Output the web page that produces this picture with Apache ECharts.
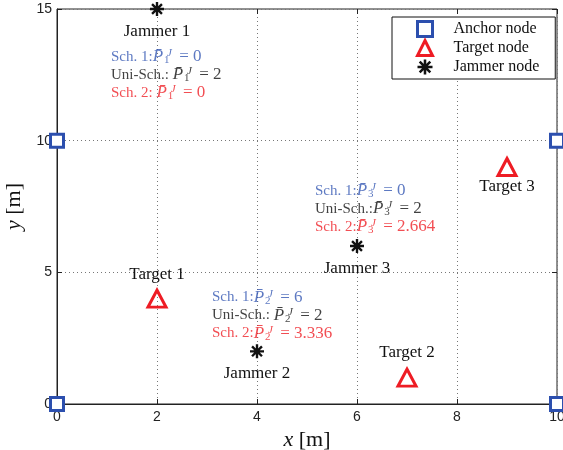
<!DOCTYPE html>
<html>
<head>
<meta charset="utf-8">
<script src="https://cdn.jsdelivr.net/npm/echarts@6/dist/echarts.min.js"></script>
<style>
  html, body { margin: 0; padding: 0; background: #fff; }
  #chart { width: 563px; height: 450px; }
</style>
</head>
<body>
<div id="chart"></div>
<script>
// Node positions [m]
const anchorX = [0, 0, 10, 10];
const anchorY = [0, 10, 0, 10];
const targetX = [2, 7, 9];
const targetY = [4, 1, 9];
const targetNames = ['Target 1', 'Target 2', 'Target 3'];
const jammerX = [2, 4, 6];
const jammerY = [15, 2, 6];
const jammerNames = ['Jammer 1', 'Jammer 2', 'Jammer 3'];

// Jammer power allocation under each scheme
const powerSch1 = [0, 6, 0];
const powerUni = [2, 2, 2];
const powerSch2 = [0, 3.336, 2.664];

// Axis ticks
const xTicks = [0, 2, 4, 6, 8, 10];
const yTicks = [0, 5, 10, 15];

// ---- styling / layout ----
const BLUE = '#2c4fae';
const RED = '#ee1c24';
const TXT_BLUE = '#3557b3';
const TXT_RED = '#ef2228';
const SERIF = '"Liberation Serif", "DejaVu Serif", serif';
const SANS = '"Liberation Sans", Arial, sans-serif';

// 8-spoke asterisk marker (horizontal, vertical and both diagonals)
const ASTERISK = 'path://M-10,-1.7L10,-1.7L10,1.7L-10,1.7Z' +
  'M-1.7,-10L1.7,-10L1.7,10L-1.7,10Z' +
  'M-5.87,-8.27L8.27,5.87L5.87,8.27L-8.27,-5.87Z' +
  'M8.27,-5.87L-5.87,8.27L-8.27,5.87L5.87,-8.27Z';

// Where each jammer's power annotation sits relative to the jammer [px]
const annotOffset = [[-46, 66], [-45, -36], [-42, -37]];
// Uni-Sch. line has a space after the colon for some jammers
const uniSpace = [' ', ' ', ''];

const targetLabelPos = ['top', 'top', 'bottom'];
const targetLabelDist = [6, 7, 1];

const EQ = ' = ';

function powerLines(i) {
  const k = i + 1;
  const sym = (c) => `{${c}i|P\u0304}{${c}sub|${k}}{${c}sup|J}`;
  return [
    `{b|Sch. 1:}${sym('b')}{bm|${EQ}${powerSch1[i]}}`,
    `{k|Uni-Sch.:${uniSpace[i]}}${sym('k')}{km|${EQ}${powerUni[i]}}`,
    `{r|Sch. 2:${i === 0 ? ' ' : ''}}${sym('r')}{rm|${EQ}${powerSch2[i]}}`
  ].join('\n');
}

function mathRich(prefix, color) {
  const o = {};
  o[prefix] = { color, fontFamily: SERIF, fontSize: 15, lineHeight: 18 };
  o[prefix + 'm'] = { color, fontFamily: SERIF, fontSize: 17, lineHeight: 18 };
  o[prefix + 'i'] = { color, fontFamily: SERIF, fontSize: 17, fontStyle: 'italic', lineHeight: 18 };
  o[prefix + 'sub'] = { color, fontFamily: SERIF, fontSize: 11, lineHeight: 11, verticalAlign: 'bottom', width: 0.01, padding: [0, 0, 0, 1] };
  o[prefix + 'sup'] = { color, fontFamily: SERIF, fontSize: 11, fontStyle: 'italic', lineHeight: 11, verticalAlign: 'top', padding: [0, 3, 0, 3] };
  return o;
}
const annotRich = Object.assign({}, mathRich('b', TXT_BLUE), mathRich('k', '#111'), mathRich('r', TXT_RED));

const chart = echarts.init(document.getElementById('chart'), null, { renderer: 'canvas' });

const gridLine = { show: true, lineStyle: { color: '#777', type: [1, 3], width: 1 } };
const axisNameStyle = {
  fontFamily: SERIF, fontSize: 22, color: '#111',
  rich: { i: { fontFamily: SERIF, fontSize: 22, fontStyle: 'italic', color: '#111' } }
};
const innerTick = { show: true, inside: true, length: 5, lineStyle: { color: '#222' } };

chart.setOption({
  animation: false,
  backgroundColor: '#fff',
  grid: {
    left: 57, right: 6, top: 9, bottom: 46,
    outerBoundsMode: 'none', containLabel: false,
    show: true, borderColor: '#222', borderWidth: 1, backgroundColor: 'transparent'
  },
  legend: {
    left: 392, top: 17,
    orient: 'vertical',
    backgroundColor: '#fff',
    borderColor: '#111', borderWidth: 1,
    padding: [3, 16, 3, 24],
    itemWidth: 15, itemHeight: 15, itemGap: 1,
    symbolKeepAspect: true,
    textStyle: { fontFamily: SERIF, fontSize: 16, color: '#111', lineHeight: 18, padding: [0, 0, 0, 16] },
    data: [
      { name: 'Anchor node', itemStyle: { borderWidth: 3 } },
      { name: 'Target node', itemStyle: { borderWidth: 3 } },
      { name: 'Jammer node' }
    ]
  },
  xAxis: [{
    type: 'value', min: 0, max: 10, interval: 2,
    name: '{i|x} [m]', nameLocation: 'middle', nameGap: 20,
    nameTextStyle: axisNameStyle,
    axisLine: { show: true, onZero: false, lineStyle: { color: '#222' } },
    axisTick: innerTick,
    axisLabel: { fontFamily: SANS, fontSize: 14, color: '#222', margin: 6,
      formatter: (v) => xTicks.includes(v) ? String(v) : '' },
    splitLine: gridLine
  }, {
    type: 'value', min: 0, max: 10, interval: 2, position: 'top',
    axisLine: { show: false, onZero: false },
    axisTick: innerTick,
    axisLabel: { show: false }, splitLine: { show: false }
  }],
  yAxis: [{
    type: 'value', min: 0, max: 15, interval: 5,
    name: '{i|y} [m]', nameLocation: 'middle', nameGap: 20, nameRotate: 90,
    nameTextStyle: axisNameStyle,
    axisLine: { show: true, onZero: false, lineStyle: { color: '#222' } },
    axisTick: innerTick,
    axisLabel: { fontFamily: SANS, fontSize: 14, color: '#222', margin: 5,
      formatter: (v) => yTicks.includes(v) ? String(v) : '' },
    splitLine: gridLine
  }, {
    type: 'value', min: 0, max: 15, interval: 5, position: 'right',
    axisLine: { show: false, onZero: false },
    axisTick: innerTick,
    axisLabel: { show: false }, splitLine: { show: false }
  }],
  series: [
    {
      name: 'Anchor node', type: 'scatter', clip: false, z: 5,
      symbol: 'rect', symbolSize: 13,
      itemStyle: { color: '#fff', borderColor: BLUE, borderWidth: 3, opacity: 1 },
      data: anchorX.map((x, i) => [x, anchorY[i]])
    },
    {
      name: 'Target node', type: 'scatter', clip: false, z: 5,
      symbol: 'triangle', symbolSize: [18, 17],
      itemStyle: { color: 'rgba(255,255,255,0)', borderColor: RED, borderWidth: 3, opacity: 1 },
      label: { show: true, fontFamily: SERIF, fontSize: 17, color: '#111', formatter: (p) => targetNames[p.dataIndex] },
      data: targetX.map((x, i) => ({
        value: [x, targetY[i]],
        label: { position: targetLabelPos[i], distance: targetLabelDist[i] }
      }))
    },
    {
      name: 'Jammer node', type: 'scatter', clip: false, z: 5,
      symbol: ASTERISK, symbolSize: 14,
      itemStyle: { color: '#111', opacity: 1 },
      label: { show: true, position: 'bottom', distance: 7, fontFamily: SERIF, fontSize: 17, color: '#111',
        formatter: (p) => jammerNames[p.dataIndex] },
      data: jammerX.map((x, i) => [x, jammerY[i]])
    },
    {
      // power allocation notes attached to each jammer
      name: 'power', type: 'scatter', clip: false, z: 6,
      symbolSize: 0, silent: true,
      label: { show: true, position: 'right', distance: 0, align: 'left', verticalAlign: 'middle',
        formatter: (p) => powerLines(p.dataIndex), rich: annotRich },
      data: jammerX.map((x, i) => ({ value: [x, jammerY[i]], label: { offset: annotOffset[i] } }))
    }
  ]
});
</script>
</body>
</html>
